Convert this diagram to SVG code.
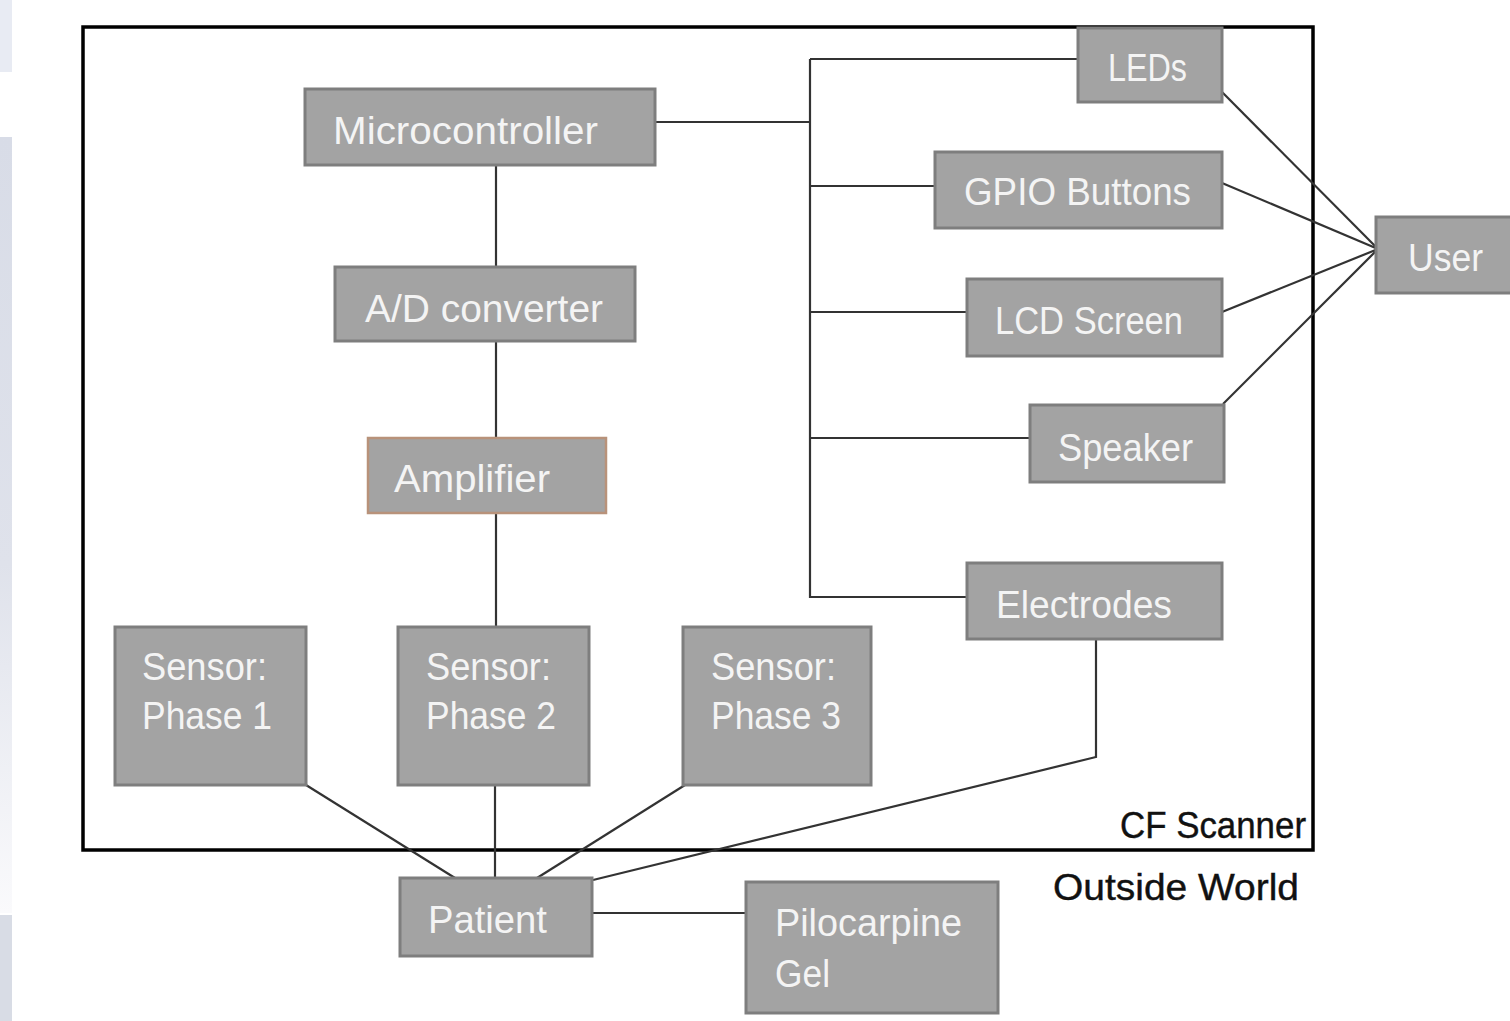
<svg xmlns="http://www.w3.org/2000/svg" width="1510" height="1021" viewBox="0 0 1510 1021">
<defs>
<linearGradient id="strip" x1="0" y1="0" x2="0" y2="1">
<stop offset="0" stop-color="#d8dce7"/>
<stop offset="0.55" stop-color="#dfe2eb"/>
<stop offset="1" stop-color="#fafafc"/>
</linearGradient>
</defs>
<style>
.box{fill:#a3a3a3;stroke:#7e7e7e;stroke-width:3}
.amp{fill:#a3a3a3;stroke:#b8927a;stroke-width:2.5}
.lbl{font-family:"Liberation Sans",Arial,sans-serif;font-size:38px;fill:#f4f4f4}
.dark{font-family:"Liberation Sans",Arial,sans-serif;font-size:36px;fill:#111;stroke:#111;stroke-width:0.4}
.con{fill:none;stroke:#333;stroke-width:2.2}
</style>
<rect width="1510" height="1021" fill="#ffffff"/>
<rect x="0" y="0" width="12" height="72" fill="#e8ebf3"/>
<rect x="0" y="137" width="12" height="776" fill="url(#strip)"/>
<rect x="0" y="915" width="12" height="106" fill="#d8dce5"/>
<rect x="83" y="27" width="1230" height="823" fill="none" stroke="#000" stroke-width="3.5"/>
<g id="connectors">
<path class="con" d="M655 122H810"/>
<path class="con" d="M810 59V597H967"/>
<path class="con" d="M810 59H1078"/>
<path class="con" d="M810 186H935"/>
<path class="con" d="M810 312H967"/>
<path class="con" d="M810 438H1030"/>
<path class="con" d="M496 165V267"/>
<path class="con" d="M496 341V438"/>
<path class="con" d="M496 513V627"/>
<path class="con" d="M1222 92L1378 249"/>
<path class="con" d="M1222 183L1378 249"/>
<path class="con" d="M1222 312L1378 249"/>
<path class="con" d="M1223 404L1378 249"/>
<path class="con" d="M306 785L455 878"/>
<path class="con" d="M495 785V878"/>
<path class="con" d="M685 785L537 878"/>
<path class="con" d="M1096 639V757L593 880"/>
<path class="con" d="M592 913H746"/>
</g>
<g id="microcontroller"><rect class="box" x="305" y="89" width="350" height="76"/><text class="lbl" x="333" y="144" textLength="265" lengthAdjust="spacingAndGlyphs">Microcontroller</text></g>
<g id="ad-converter"><rect class="box" x="335" y="267" width="300" height="74"/><text class="lbl" x="365" y="322" textLength="238" lengthAdjust="spacingAndGlyphs">A/D converter</text></g>
<g id="amplifier"><rect class="amp" x="368" y="438" width="238" height="75"/><text class="lbl" x="394" y="492" textLength="156" lengthAdjust="spacingAndGlyphs">Amplifier</text></g>
<g id="sensor1"><rect class="box" x="115" y="627" width="191" height="158"/><text class="lbl" x="142" y="680" textLength="125" lengthAdjust="spacingAndGlyphs">Sensor:</text><text class="lbl" x="142" y="729" textLength="130" lengthAdjust="spacingAndGlyphs">Phase 1</text></g>
<g id="sensor2"><rect class="box" x="398" y="627" width="191" height="158"/><text class="lbl" x="426" y="680" textLength="125" lengthAdjust="spacingAndGlyphs">Sensor:</text><text class="lbl" x="426" y="729" textLength="130" lengthAdjust="spacingAndGlyphs">Phase 2</text></g>
<g id="sensor3"><rect class="box" x="683" y="627" width="188" height="158"/><text class="lbl" x="711" y="680" textLength="125" lengthAdjust="spacingAndGlyphs">Sensor:</text><text class="lbl" x="711" y="729" textLength="130" lengthAdjust="spacingAndGlyphs">Phase 3</text></g>
<g id="leds"><rect class="box" x="1078" y="28" width="144" height="74"/><text class="lbl" x="1108" y="81" textLength="79" lengthAdjust="spacingAndGlyphs">LEDs</text></g>
<g id="gpio"><rect class="box" x="935" y="152" width="287" height="76"/><text class="lbl" x="964" y="205" textLength="227" lengthAdjust="spacingAndGlyphs">GPIO Buttons</text></g>
<g id="lcd"><rect class="box" x="967" y="279" width="255" height="77"/><text class="lbl" x="995" y="334" textLength="188" lengthAdjust="spacingAndGlyphs">LCD Screen</text></g>
<g id="speaker"><rect class="box" x="1030" y="405" width="194" height="77"/><text class="lbl" x="1058" y="461" textLength="135" lengthAdjust="spacingAndGlyphs">Speaker</text></g>
<g id="electrodes"><rect class="box" x="967" y="563" width="255" height="76"/><text class="lbl" x="996" y="618" textLength="176" lengthAdjust="spacingAndGlyphs">Electrodes</text></g>
<g id="user"><rect class="box" x="1376" y="217" width="140" height="76"/><text class="lbl" x="1408" y="271" textLength="75" lengthAdjust="spacingAndGlyphs">User</text></g>
<g id="patient"><rect class="box" x="400" y="878" width="192" height="78"/><text class="lbl" x="428" y="933" textLength="119" lengthAdjust="spacingAndGlyphs">Patient</text></g>
<g id="pilocarpine"><rect class="box" x="746" y="882" width="252" height="131"/><text class="lbl" x="775" y="936" textLength="187" lengthAdjust="spacingAndGlyphs">Pilocarpine</text><text class="lbl" x="775" y="987" textLength="55" lengthAdjust="spacingAndGlyphs">Gel</text></g>
<text class="dark" x="1120" y="838" textLength="186" lengthAdjust="spacingAndGlyphs">CF Scanner</text>
<text class="dark" x="1053" y="900" textLength="246" lengthAdjust="spacingAndGlyphs">Outside World</text>
</svg>
